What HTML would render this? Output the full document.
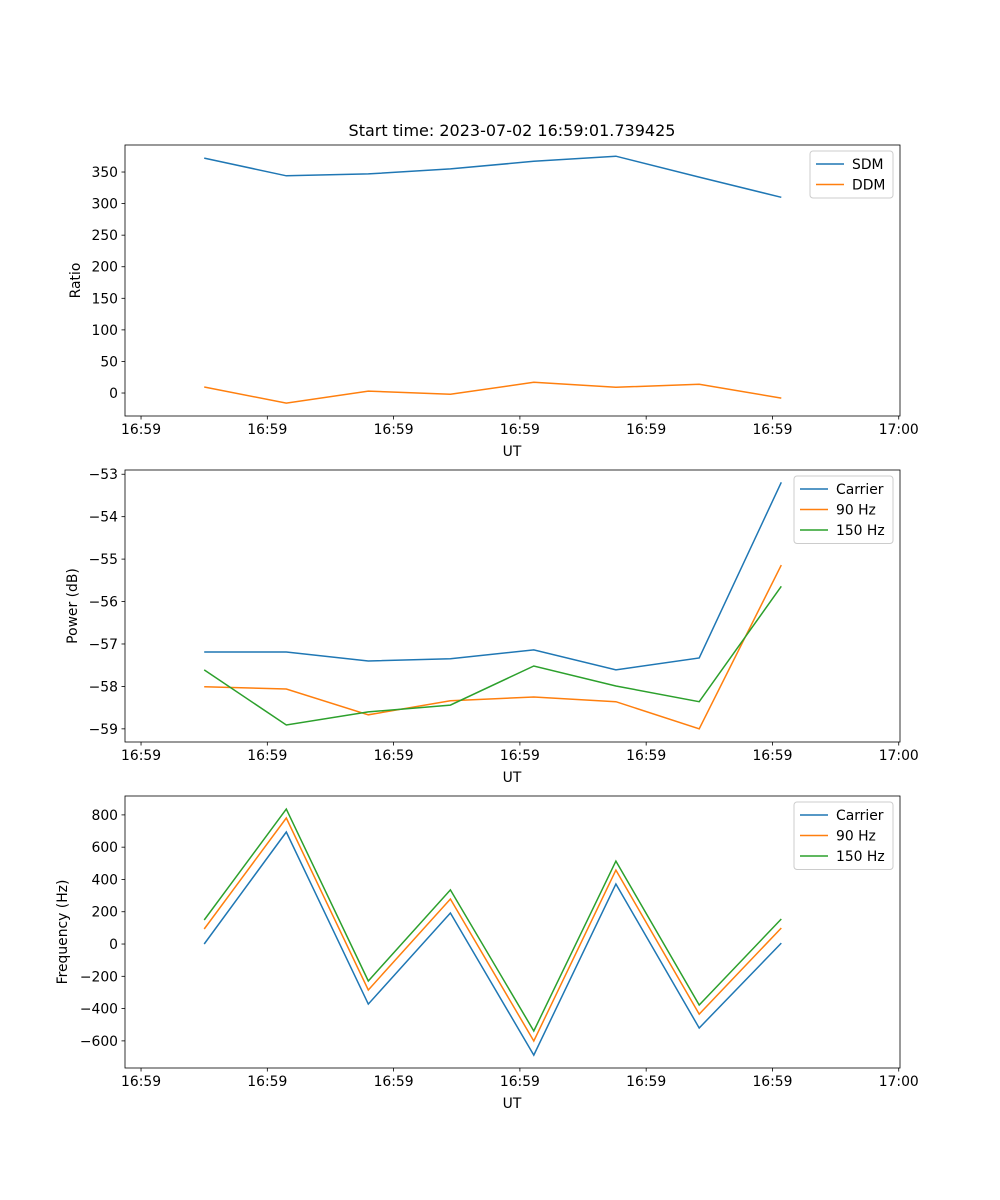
<!DOCTYPE html>
<html><head><meta charset="utf-8"><style>
body{margin:0;background:#fff}
svg{display:block;font-family:"DejaVu Sans","Liberation Sans",sans-serif}
</style></head><body>
<svg id="fig" width="1000" height="1200" viewBox="0 0 1000 1200" xmlns="http://www.w3.org/2000/svg">
<rect width="1000" height="1200" fill="#fff"/>
<text x="512" y="136" font-size="16" text-anchor="middle">Start time: 2023-07-02 16:59:01.739425</text>
</svg>
<script>
const xTickLabels = ["16:59","16:59","16:59","16:59","16:59","16:59","17:00"];
const xTickValues = [0,1,2,3,4,5,6];
const times = [0.5,1.15,1.8,2.45,3.11,3.76,4.42,5.07];
const sdm = [372,344,347,355,367,375,342,310];
const ddm = [9.5,-16,3,-2,17,9,14,-8];
const pCarrier = [-57.19,-57.19,-57.40,-57.35,-57.14,-57.61,-57.33,-53.19];
const p90 = [-58.01,-58.06,-58.67,-58.34,-58.25,-58.36,-59.0,-55.14];
const p150 = [-57.61,-58.91,-58.6,-58.44,-57.52,-57.99,-58.36,-55.64];
const fCarrier = [0,694,-372,192,-688,372,-520,6];
const f90 = [93,781,-285,279,-601,458,-434,99];
const f150 = [149,836,-229,335,-539,514,-378,155];
const ratioTicks = [0,50,100,150,200,250,300,350];
const powerTicks = [-59,-58,-57,-56,-55,-54,-53];
const freqTicks = [-600,-400,-200,0,200,400,600,800];

const NS="http://www.w3.org/2000/svg";
const svg=document.getElementById('fig');
function mk(tag,attrs,parent){const e=document.createElementNS(NS,tag);for(const k in attrs)e.setAttribute(k,attrs[k]);(parent||svg).appendChild(e);return e;}
const X0=125,X1=900,XMIN=-0.127,XMAX=6.01;
function xs(t){return X0+(t-XMIN)/(XMAX-XMIN)*(X1-X0);}

function panel(name,top,bottom,ymin,ymax,yTicks,ylabel,ylabelX,series,legend){
  const g=mk('g',{});
  
  
  const ys=v=>bottom-(v-ymin)/(ymax-ymin)*(bottom-top);
  series.forEach(s=>{
    const pts=times.map((t,i)=>xs(t).toFixed(1)+','+ys(s.data[i]).toFixed(1)).join(' ');
    const pl=mk('polyline',{points:pts,fill:'none',stroke:s.color,'stroke-width':1.5},g);
    
    
  });
  const fr=mk('rect',{x:X0,y:top,width:X1-X0,height:bottom-top,fill:'none',stroke:'#000','stroke-width':0.8},g);
  
  
  xTickValues.forEach((v,i)=>{
    const x=xs(v);
    mk('line',{x1:x,y1:bottom,x2:x,y2:bottom+3.5,stroke:'#000','stroke-width':0.8},g);
    const t=mk('text',{x:x,y:bottom+18,'font-size':13.9,'text-anchor':'middle'},g);
    t.textContent=xTickLabels[i];
    
    
  });
  yTicks.forEach(v=>{
    const y=ys(v);
    mk('line',{x1:X0-3.5,y1:y,x2:X0,y2:y,stroke:'#000','stroke-width':0.8},g);
    const t=mk('text',{x:X0-7,y:y+5,'font-size':13.9,'text-anchor':'end'},g);
    t.textContent=v<0?'\u2212'+Math.abs(v):String(v);
    
    
  });
  const xl=mk('text',{x:512,y:bottom+40,'font-size':13.9,'text-anchor':'middle'},g);
  xl.textContent='UT';
  
  
  const cy=(top+bottom)/2;
  const yl=mk('text',{x:ylabelX,y:cy,'font-size':13.9,'text-anchor':'middle',transform:`rotate(-90 ${ylabelX} ${cy})`},g);
  yl.textContent=ylabel;
  
  
  const lg=mk('g',{},g);
  
  
  mk('rect',{x:legend.x,y:top+6,width:legend.w,height:series.length*20.5+6,rx:3,fill:'#fff',stroke:'#ccc','stroke-width':1},lg);
  series.forEach((s,i)=>{
    const y=top+19+i*20.5;
    mk('line',{x1:legend.x+6,y1:y,x2:legend.x+34,y2:y,stroke:s.color,'stroke-width':1.5},lg);
    const t=mk('text',{x:legend.x+42,y:y+5,'font-size':13.9},lg);
    t.textContent=s.label;
    
    
  });
}
const C1='#1f77b4',C2='#ff7f0e',C3='#2ca02c';
panel('ratio',145,416,-36.4,392.8,ratioTicks,'Ratio',80,
 [{key:'sdm',label:'SDM',data:sdm,color:C1},{key:'ddm',label:'DDM',data:ddm,color:C2}],{x:810,w:83});
panel('power',470,742,-59.31,-52.9,powerTicks,'Power (dB)',77,
 [{key:'carrier',label:'Carrier',data:pCarrier,color:C1},{key:'90hz',label:'90 Hz',data:p90,color:C2},{key:'150hz',label:'150 Hz',data:p150,color:C3}],{x:794,w:99});
panel('frequency',796,1068,-768,917,freqTicks,'Frequency (Hz)',67,
 [{key:'carrier',label:'Carrier',data:fCarrier,color:C1},{key:'90hz',label:'90 Hz',data:f90,color:C2},{key:'150hz',label:'150 Hz',data:f150,color:C3}],{x:794,w:99});
</script>
</body></html>
